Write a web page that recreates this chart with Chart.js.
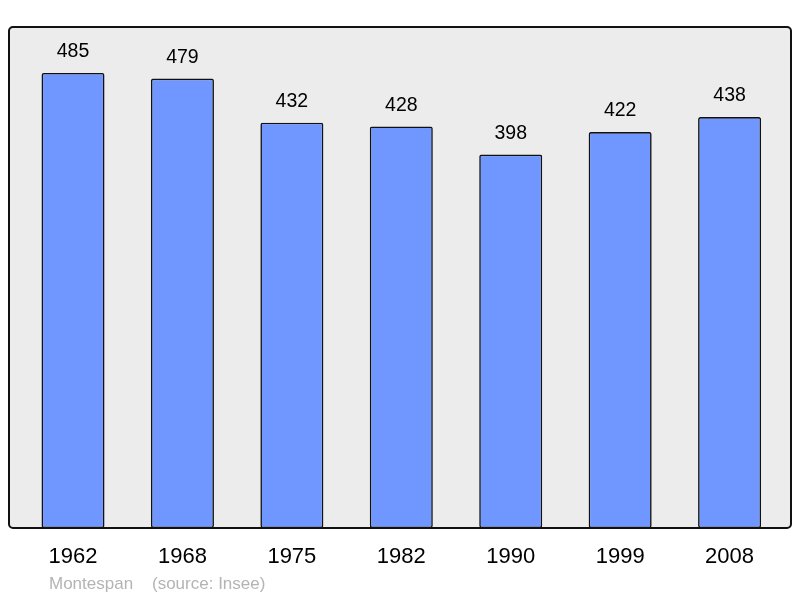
<!DOCTYPE html>
<html>
<head>
<meta charset="utf-8">
<script src="https://cdn.jsdelivr.net/npm/chart.js@4/dist/chart.umd.min.js"></script>
<style>
  html, body { margin: 0; padding: 0; background: #ffffff; }
  #wrap { position: relative; width: 800px; height: 598px; }
  #footer { position: absolute; left: 49px; top: 574px; font-family: "Liberation Sans", Arial, sans-serif; font-size: 17px; color: #b4b4b4; white-space: pre; }
</style>
</head>
<body>
<div id="wrap">
  <canvas id="c" width="800" height="598"></canvas>
  <div id="footer">Montespan    (source: Insee)</div>
</div>
<script>
const years = ["1962", "1968", "1975", "1982", "1990", "1999", "2008"];
const population = [485, 479, 432, 428, 398, 422, 438];
const yMax = 534;

const framePlugin = {
  id: 'frame',
  beforeDraw(chart) {
    const ctx = chart.ctx;
    const a = chart.chartArea;
    const x0 = 9, x1 = 791, y0 = a.top, y1 = a.bottom;
    ctx.save();
    ctx.beginPath();
    ctx.roundRect(x0, y0, x1 - x0, y1 - y0, 4);
    ctx.fillStyle = '#ececec';
    ctx.fill();
    ctx.restore();
  },
  afterDatasetsDraw(chart) {
    const ctx = chart.ctx;
    const a = chart.chartArea;
    const x0 = 9, x1 = 791, y0 = a.top, y1 = a.bottom;
    ctx.save();
    ctx.beginPath();
    ctx.roundRect(x0, y0, x1 - x0, y1 - y0, 4);
    ctx.lineWidth = 2;
    ctx.strokeStyle = '#111111';
    ctx.stroke();
    const meta = chart.getDatasetMeta(0);
    ctx.fillStyle = '#000000';
    ctx.font = '19.5px "Liberation Sans", Arial, sans-serif';
    ctx.textAlign = 'center';
    ctx.textBaseline = 'middle';
    meta.data.forEach((bar, i) => {
      ctx.fillText(String(population[i]), bar.x, bar.y - 21);
    });
    ctx.restore();
  }
};

new Chart(document.getElementById('c'), {
  type: 'bar',
  data: {
    labels: years,
    datasets: [{
      data: population,
      backgroundColor: '#7096ff',
      borderColor: '#111111',
      borderWidth: 1.6,
      borderRadius: 2,
      borderSkipped: false,
      barPercentage: 0.576,
      categoryPercentage: 1.0
    }]
  },
  plugins: [framePlugin],
  options: {
    responsive: false,
    animation: false,
    devicePixelRatio: 1,
    layout: { padding: { left: 18.3, right: 15.7, top: 27, bottom: 11.6 } },
    plugins: { legend: { display: false }, tooltip: { enabled: false } },
    scales: {
      x: {
        grid: { display: false, drawTicks: false },
        border: { display: false },
        ticks: { color: '#000000', font: { family: '"Liberation Sans", Arial, sans-serif', size: 22 }, padding: 16, maxRotation: 0 }
      },
      y: {
        display: false,
        min: 0,
        max: yMax
      }
    }
  }
});
</script>
</body>
</html>
